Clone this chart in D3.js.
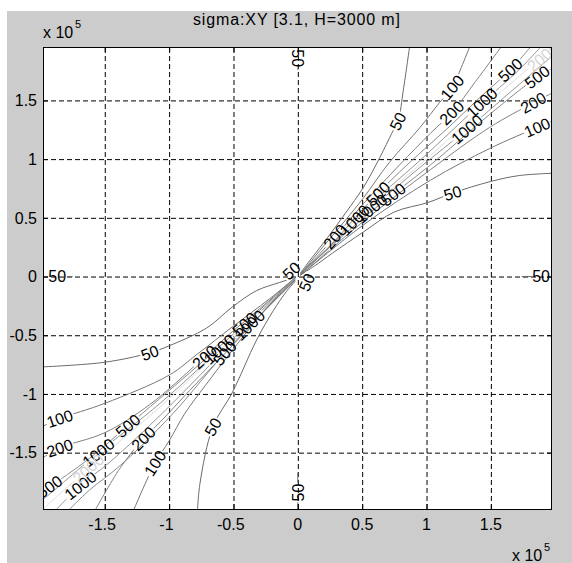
<!DOCTYPE html>
<html>
<head>
<meta charset="utf-8">
<script src="https://cdn.jsdelivr.net/npm/d3@7"></script>
<style>
html, body { margin: 0; padding: 0; background: #fff; }
svg { display: block; font-family: "Liberation Sans", Arial, sans-serif; }
</style>
</head>
<body>
<svg id="chart" width="572" height="563"></svg>
<script>
// values are in units of 1e5 (see the "x 10^5" marks)
const titleText = "sigma:XY [3.1, H=3000 m]";
const xDomain = [-1.98, 1.975];
const yDomain = [-1.98, 1.955];
const xTicks = [-1.5, -1, -0.5, 0, 0.5, 1, 1.5];
const xTickLabels = ["-1.5", "-1", "-0.5", "0", "0.5", "1", "1.5"];
const yTicks = [-1.5, -1, -0.5, 0, 0.5, 1, 1.5];
const yTickLabels = ["-1.5", "-1", "-0.5", "0", "0.5", "1", "1.5"];
const levels = [50, 100, 200, 500, 1000, 2000];

// contour lines, one list of polylines per level
const lines50 = [
  [[0.02,0.03],[0.11,0.16],[0.23,0.33],[0.37,0.54],[0.51,0.76],[0.64,1.02],[0.73,1.22],[0.78,1.33],[0.82,1.59],[0.87,1.97]],
  [[0.03,0.02],[0.13,0.09],[0.27,0.20],[0.51,0.38],[0.75,0.55],[1.01,0.63],[1.20,0.71],[1.50,0.81],[1.72,0.86],[1.99,0.88]],
  [[-0.03,-0.01],[-0.14,-0.05],[-0.32,-0.12],[-0.51,-0.26],[-0.71,-0.44],[-1.00,-0.59],[-1.15,-0.65],[-1.50,-0.73],[-1.99,-0.77]],
  [[-0.02,-0.04],[-0.09,-0.13],[-0.19,-0.29],[-0.32,-0.54],[-0.51,-0.99],[-0.66,-1.28],[-0.76,-1.76],[-0.78,-2.0]],
  [[0.0,1.97],[0.0,1.76]],
  [[0.0,-2.0],[0.0,-1.67]],
  [[-2.0,0.0],[-1.75,0.0]],
  [[1.99,0.0],[1.74,0.0]],
  [[-0.1,0.0],[0.0,0.1]],
  [[0.05,-0.1],[0.09,0.0]]
];
const lines100 = [
  [[0.02,0.02],[0.17,0.22],[0.37,0.48],[0.51,0.67],[0.71,0.97],[0.95,1.27],[1.10,1.48],[1.20,1.61],[1.27,1.78],[1.34,1.97]],
  [[0.02,0.01],[0.51,0.44],[1.03,0.82],[1.49,1.09],[1.86,1.27],[1.99,1.33]],
  [[-0.02,-0.01],[-0.22,-0.19],[-0.51,-0.43],[-0.78,-0.66],[-1.00,-0.84],[-1.50,-1.08],[-1.85,-1.21],[-1.99,-1.28]],
  [[-0.02,-0.03],[-0.22,-0.24],[-0.51,-0.63],[-0.72,-0.93],[-0.88,-1.17],[-1.00,-1.40],[-1.11,-1.59],[-1.28,-2.0]]
];
const lines200 = [
  [[0.02,0.02],[0.25,0.29],[0.51,0.62],[0.79,0.95],[1.03,1.22],[1.20,1.40],[1.38,1.66],[1.59,1.97]],
  [[0.02,0.01],[0.51,0.47],[1.03,0.91],[1.49,1.27],[1.83,1.48],[1.99,1.57]],
  [[-0.02,-0.01],[-0.26,-0.24],[-0.51,-0.47],[-0.76,-0.72],[-1.15,-1.09],[-1.50,-1.33],[-1.85,-1.46],[-1.99,-1.55]],
  [[-0.02,-0.03],[-0.26,-0.29],[-0.51,-0.59],[-0.84,-0.97],[-1.07,-1.24],[-1.20,-1.38],[-1.38,-1.63],[-1.58,-2.0]]
];
const lines500 = [
  [[0.02,0.02],[0.25,0.26],[0.51,0.58],[0.79,0.89],[1.18,1.28],[1.41,1.52],[1.65,1.76],[1.82,1.97]],
  [[0.02,0.02],[0.51,0.50],[1.03,0.95],[1.49,1.38],[1.86,1.70],[1.99,1.78]],
  [[-0.02,-0.02],[-0.26,-0.25],[-0.51,-0.50],[-0.84,-0.82],[-1.32,-1.27],[-1.62,-1.55],[-1.93,-1.79],[-1.99,-1.83]],
  [[-0.02,-0.03],[-0.51,-0.58],[-0.99,-1.19],[-1.38,-1.61],[-1.62,-1.82],[-1.79,-2.0]]
];
const lines1000 = [
  [[0.02,0.02],[0.25,0.26],[0.51,0.56],[0.95,0.99],[1.43,1.48],[1.69,1.73],[1.90,1.97]],
  [[0.02,0.02],[0.51,0.52],[0.95,0.93],[1.31,1.25],[1.65,1.57],[1.99,1.89]],
  [[-0.02,-0.02],[-0.51,-0.52],[-1.07,-1.08],[-1.55,-1.50],[-1.85,-1.78],[-1.99,-1.91]],
  [[-0.02,-0.03],[-0.51,-0.56],[-1.03,-1.14],[-1.46,-1.58],[-1.69,-1.78],[-1.89,-2.0]]
];
const lines2000 = [
  [[0.02,0.02],[0.51,0.54],[1.03,1.03],[1.49,1.49],[1.99,1.95]],
  [[-0.01,-0.01],[-0.51,-0.53],[-1.07,-1.11],[-1.54,-1.55],[-1.99,-1.99]]
];

// contour labels: [level, x, y]
const labelPoints = [
  [50, 0.78, 1.32], [50, 1.20, 0.72], [50, -1.15, -0.65], [50, -0.66, -1.28],
  [50, 0.0, 1.86], [50, 0.0, -1.84], [50, -1.87, 0.0], [50, 1.89, 0.0],
  [50, -0.05, 0.05], [50, 0.07, -0.05],
  [100, 1.20, 1.61], [100, 1.86, 1.27], [100, -1.85, -1.21], [100, -1.11, -1.59],
  [200, 1.20, 1.39], [200, 1.83, 1.48], [200, -1.85, -1.46], [200, -1.20, -1.38],
  [200, 0.29, 0.34], [200, -0.72, -0.69],
  [500, 1.65, 1.76], [500, 1.86, 1.70], [500, -1.32, -1.27], [500, -1.93, -1.79],
  [500, 0.62, 0.71], [500, 0.74, 0.70], [500, -0.41, -0.41], [500, -0.57, -0.65],
  [1000, 1.43, 1.48], [1000, 1.31, 1.26], [1000, -1.55, -1.50], [1000, -1.69, -1.78],
  [1000, 0.44, 0.48], [1000, 0.57, 0.58], [1000, -0.61, -0.62], [1000, -0.37, -0.42],
  [2000, 1.89, 1.89], [2000, -1.61, -1.66]
];

const contourLines = {50: lines50, 100: lines100, 200: lines200, 500: lines500, 1000: lines1000, 2000: lines2000};
const lineColor = {50: "#6a6a6a", 100: "#767676", 200: "#808080", 500: "#8a8a8a", 1000: "#959595", 2000: "#dedede"};
const textColor = {50: "#000", 100: "#000", 200: "#000", 500: "#000", 1000: "#000", 2000: "#d4d4d4"};

const W = 572, H = 563;
const box = {left: 43, top: 47, right: 552, bottom: 509};

const svg = d3.select("#chart");
svg.append("rect").attr("x", 7).attr("y", 11).attr("width", W - 7).attr("height", H - 11).attr("fill", "#cccccc");

const x = d3.scaleLinear().domain(xDomain).range([box.left, box.right]);
const y = d3.scaleLinear().domain(yDomain).range([box.bottom, box.top]);

svg.append("rect")
  .attr("x", box.left).attr("y", box.top)
  .attr("width", box.right - box.left).attr("height", box.bottom - box.top)
  .attr("fill", "#fff");

// dashed grid
svg.append("g").attr("transform", `translate(0,${box.bottom})`)
  .call(d3.axisBottom(x).tickValues(xTicks).tickSize(-(box.bottom - box.top)).tickFormat(""))
  .call(g => g.select(".domain").remove())
  .call(g => g.selectAll(".tick line").attr("stroke", "#000").attr("stroke-dasharray", "5,3"));
svg.append("g").attr("transform", `translate(${box.left},0)`)
  .call(d3.axisLeft(y).tickValues(yTicks).tickSize(-(box.right - box.left)).tickFormat(""))
  .call(g => g.select(".domain").remove())
  .call(g => g.selectAll(".tick line").attr("stroke", "#000").attr("stroke-dasharray", "5,3"));

// label placement: snap to the nearest segment of that level, rotate along it
function placeLabel(lev, lx, ly) {
  const P = [x(lx), y(ly)];
  let best = null;
  contourLines[lev].forEach(line => {
    for (let i = 0; i < line.length - 1; i++) {
      const a = [x(line[i][0]), y(line[i][1])];
      const b = [x(line[i + 1][0]), y(line[i + 1][1])];
      const dx = b[0] - a[0], dy = b[1] - a[1];
      let t = ((P[0] - a[0]) * dx + (P[1] - a[1]) * dy) / (dx * dx + dy * dy);
      t = Math.max(0, Math.min(1, t));
      const q = [a[0] + t * dx, a[1] + t * dy];
      const d = Math.hypot(P[0] - q[0], P[1] - q[1]);
      if (!best || d < best.d) best = {d, q, ang: Math.atan2(dy, dx) * 180 / Math.PI};
    }
  });
  let a = best.ang;
  if (a > 90) a -= 180;
  if (a < -90) a += 180;
  const s = String(lev);
  return {lev, s, px: best.q[0], py: best.q[1], a, w: s.length * 8.9 + 2};
}
const placed = labelPoints.map(d => placeLabel(d[0], d[1], d[2]));

const defs = svg.append("defs");
defs.append("clipPath").attr("id", "plotclip").append("rect")
  .attr("x", box.left).attr("y", box.top)
  .attr("width", box.right - box.left).attr("height", box.bottom - box.top);

levels.forEach(lev => {
  const m = defs.append("mask").attr("id", "gap" + lev)
    .attr("maskUnits", "userSpaceOnUse").attr("x", 0).attr("y", 0).attr("width", W).attr("height", H);
  m.append("rect").attr("width", W).attr("height", H).attr("fill", "#fff");
  placed.filter(p => p.lev === lev).forEach(p => {
    m.append("rect")
      .attr("x", -p.w / 2).attr("y", -5.5).attr("width", p.w).attr("height", 11)
      .attr("fill", "#000")
      .attr("transform", `translate(${p.px},${p.py}) rotate(${p.a})`);
  });
});

const lineGen = d3.line()
  .x(d => x(d[0]))
  .y(d => y(d[1]))
  .curve(d3.curveCatmullRom.alpha(0.5));

const plot = svg.append("g").attr("clip-path", "url(#plotclip)");
levels.slice().reverse().forEach(lev => {
  plot.append("g").attr("mask", `url(#gap${lev})`)
    .selectAll("path").data(contourLines[lev]).join("path")
    .attr("d", lineGen)
    .attr("fill", "none")
    .attr("stroke", lineColor[lev])
    .attr("stroke-width", 1);
});

plot.selectAll("text.clabel").data(placed).join("text")
  .attr("class", "clabel")
  .attr("transform", d => `translate(${d.px},${d.py}) rotate(${d.a})`)
  .attr("text-anchor", "middle")
  .attr("dy", "0.36em")
  .attr("font-size", 16)
  .attr("fill", d => textColor[d.lev])
  .text(d => d.s);

// inward ticks on all four sides
const tickLen = 5;
[
  [d3.axisBottom(x).tickValues(xTicks), `translate(0,${box.bottom})`],
  [d3.axisTop(x).tickValues(xTicks), `translate(0,${box.top})`],
  [d3.axisLeft(y).tickValues(yTicks), `translate(${box.left},0)`],
  [d3.axisRight(y).tickValues(yTicks), `translate(${box.right},0)`]
].forEach(([ax, tr]) => {
  svg.append("g").attr("transform", tr)
    .call(ax.tickSize(-tickLen).tickFormat(""))
    .call(g => g.select(".domain").remove())
    .call(g => g.selectAll(".tick line").attr("stroke", "#000"));
});

// axes box
svg.append("rect")
  .attr("x", box.left + 0.5).attr("y", box.top + 0.5)
  .attr("width", box.right - box.left - 1).attr("height", box.bottom - box.top)
  .attr("fill", "none").attr("stroke", "#000");

// tick labels (minus sign hangs to the left of the centred number)
const labG = svg.append("g").attr("font-size", 16).attr("fill", "#000");
xTicks.forEach((v, i) => {
  const s = xTickLabels[i];
  const neg = s.startsWith("-");
  const t = labG.append("text").attr("x", x(v)).attr("y", 530).attr("text-anchor", "middle").text(neg ? s.slice(1) : s);
  if (neg) {
    const w = t.node().getComputedTextLength();
    labG.append("text").attr("x", x(v) - w / 2).attr("y", 530).attr("text-anchor", "end").text("-");
  }
});
yTicks.forEach((v, i) => {
  labG.append("text").attr("x", 37).attr("y", y(v)).attr("dy", "0.36em")
    .attr("text-anchor", "end").text(yTickLabels[i]);
});

// exponent marks
function expMark(x0, yBase) {
  const g = svg.append("g").attr("fill", "#000");
  g.append("text").attr("x", x0).attr("y", yBase).attr("font-size", 16).text("x 10");
  g.append("text").attr("x", x0 + 32).attr("y", yBase - 10).attr("font-size", 11).text("5");
}
expMark(43, 38);
expMark(512, 561);

// title
svg.append("text")
  .attr("x", 296.5).attr("y", 25)
  .attr("text-anchor", "middle")
  .attr("font-size", 16)
  .attr("textLength", 207).attr("lengthAdjust", "spacing")
  .attr("fill", "#000")
  .text(titleText);
</script>
</body>
</html>
